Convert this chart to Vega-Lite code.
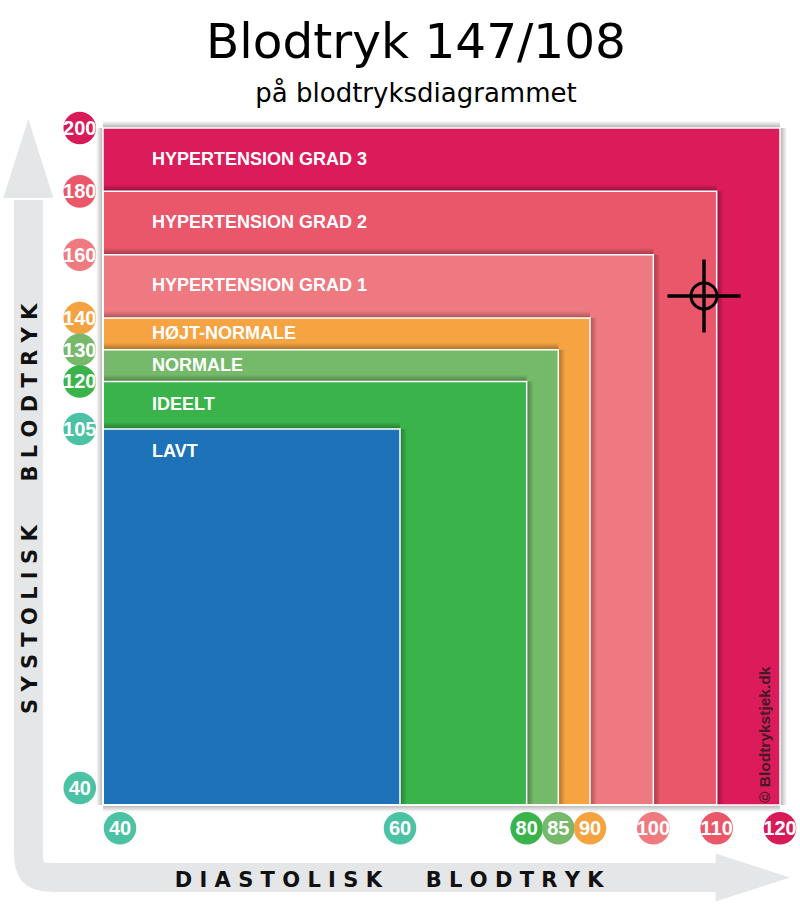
{
  "$schema": "https://vega.github.io/schema/vega-lite/v6.json",
  "width": 780,
  "height": 790,
  "autosize": "none",
  "padding": {"left": 10, "top": 110, "right": 10, "bottom": 8},
  "background": "white",
  "title": {
    "text": "Blodtryk 147/108",
    "subtitle": "på blodtryksdiagrammet",
    "anchor": "middle",
    "frame": "group",
    "dx": 16,
    "offset": 2.5,
    "font": "DejaVu Sans",
    "fontSize": 48.5,
    "fontWeight": "normal",
    "color": "#000000",
    "subtitleFont": "DejaVu Sans",
    "subtitleFontSize": 26,
    "subtitleColor": "#000000",
    "subtitlePadding": 12
  },
  "data": {"values": [{}]},
  "datasets": {
    "zones": [
      {"zone": "HYPERTENSION GRAD 3", "dia_from": 40, "dia_max": 120, "sys_from": 40, "sys_min": 180, "sys_max": 200},
      {"zone": "HYPERTENSION GRAD 2", "dia_from": 40, "dia_max": 110, "sys_from": 40, "sys_min": 160, "sys_max": 180},
      {"zone": "HYPERTENSION GRAD 1", "dia_from": 40, "dia_max": 100, "sys_from": 40, "sys_min": 140, "sys_max": 160},
      {"zone": "HØJT-NORMALE", "dia_from": 40, "dia_max": 90, "sys_from": 40, "sys_min": 130, "sys_max": 140},
      {"zone": "NORMALE", "dia_from": 40, "dia_max": 85, "sys_from": 40, "sys_min": 120, "sys_max": 130},
      {"zone": "IDEELT", "dia_from": 40, "dia_max": 80, "sys_from": 40, "sys_min": 105, "sys_max": 120},
      {"zone": "LAVT", "dia_from": 40, "dia_max": 60, "sys_from": 40, "sys_min": 40, "sys_max": 105}
    ],
    "ticks": [
      {"axis": "sys", "v": 200, "zone": "HYPERTENSION GRAD 3"},
      {"axis": "sys", "v": 180, "zone": "HYPERTENSION GRAD 2"},
      {"axis": "sys", "v": 160, "zone": "HYPERTENSION GRAD 1"},
      {"axis": "sys", "v": 140, "zone": "HØJT-NORMALE"},
      {"axis": "sys", "v": 130, "zone": "NORMALE"},
      {"axis": "sys", "v": 120, "zone": "IDEELT"},
      {"axis": "sys", "v": 105, "zone": "LAVT"},
      {"axis": "sys", "v": 40, "zone": "LAVT"},
      {"axis": "dia", "v": 40, "zone": "LAVT"},
      {"axis": "dia", "v": 60, "zone": "LAVT"},
      {"axis": "dia", "v": 80, "zone": "IDEELT"},
      {"axis": "dia", "v": 85, "zone": "NORMALE"},
      {"axis": "dia", "v": 90, "zone": "HØJT-NORMALE"},
      {"axis": "dia", "v": 100, "zone": "HYPERTENSION GRAD 1"},
      {"axis": "dia", "v": 110, "zone": "HYPERTENSION GRAD 2"},
      {"axis": "dia", "v": 120, "zone": "HYPERTENSION GRAD 3"}
    ],
    "reading": [{"dia": 108, "sys": 147}],
    "arrow": [
      {"i": 0, "dia": 23.94, "sys": 177.3},
      {"i": 1, "dia": 23.94, "sys": 38.57},
      {"i": 2, "dia": 23.94, "sys": 33.18},
      {"i": 3, "dia": 23.94, "sys": 27.79},
      {"i": 4, "dia": 30.82, "sys": 27.79},
      {"i": 5, "dia": 37.7, "sys": 27.79},
      {"i": 6, "dia": 110.53, "sys": 27.79}
    ]
  },
  "layer": [
    {
      "data": {"name": "arrow"},
      "mark": {"type": "line", "interpolate": "basis", "stroke": "#e5e6e8", "strokeWidth": 29, "strokeCap": "butt"},
      "encoding": {
        "x": {"field": "dia", "type": "quantitative", "axis": null, "scale": {"domain": [20, 40, 60, 120, 123], "range": [0, 93, 390, 770, 789], "zero": false, "nice": false}},
        "y": {"field": "sys", "type": "quantitative", "axis": null, "scale": {"domain": [24, 40, 105, 200, 206], "range": [790, 695, 319, 18, 0], "zero": false, "nice": false}},
        "order": {"field": "i", "type": "quantitative"}
      }
    },
    {
      "mark": {"type": "point", "shape": "M0,0L1,3.16L-1,3.16Z", "size": 2500, "filled": true, "fill": "#e5e6e8", "opacity": 1, "strokeWidth": 0},
      "encoding": {
        "x": {"datum": 23.94, "type": "quantitative", "axis": null, "scale": {"domain": [20, 40, 60, 120, 123], "range": [0, 93, 390, 770, 789], "zero": false, "nice": false}},
        "y": {"datum": 203, "type": "quantitative", "axis": null, "scale": {"domain": [24, 40, 105, 200, 206], "range": [790, 695, 319, 18, 0], "zero": false, "nice": false}}
      }
    },
    {
      "mark": {"type": "point", "shape": "M0,0L-3.1,-1L-3.1,1Z", "size": 2304, "filled": true, "fill": "#e5e6e8", "opacity": 1, "strokeWidth": 0},
      "encoding": {
        "x": {"datum": 121.58, "type": "quantitative", "axis": null, "scale": {"domain": [20, 40, 60, 120, 123], "range": [0, 93, 390, 770, 789], "zero": false, "nice": false}},
        "y": {"datum": 27.79, "type": "quantitative", "axis": null, "scale": {"domain": [24, 40, 105, 200, 206], "range": [790, 695, 319, 18, 0], "zero": false, "nice": false}}
      }
    },
    {
      "mark": {"type": "text", "text": "D I A S T O L I S K \u00a0\u00a0\u00a0\u00a0 B L O D T R Y K", "font": "DejaVu Sans", "fontWeight": "bold", "fontSize": 21, "align": "center", "baseline": "alphabetic", "fill": "#111111"},
      "encoding": {
        "x": {"datum": 59.27, "type": "quantitative", "axis": null, "scale": {"domain": [20, 40, 60, 120, 123], "range": [0, 93, 390, 770, 789], "zero": false, "nice": false}},
        "y": {"datum": 26.24, "type": "quantitative", "axis": null, "scale": {"domain": [24, 40, 105, 200, 206], "range": [790, 695, 319, 18, 0], "zero": false, "nice": false}}
      }
    },
    {
      "mark": {"type": "text", "text": "S Y S T O L I S K \u00a0\u00a0\u00a0\u00a0 B L O D T R Y K", "angle": 270, "font": "DejaVu Sans", "fontWeight": "bold", "fontSize": 21, "align": "center", "baseline": "alphabetic", "fill": "#111111"},
      "encoding": {
        "x": {"datum": 25.87, "type": "quantitative", "axis": null, "scale": {"domain": [20, 40, 60, 120, 123], "range": [0, 93, 390, 770, 789], "zero": false, "nice": false}},
        "y": {"datum": 91.2, "type": "quantitative", "axis": null, "scale": {"domain": [24, 40, 105, 200, 206], "range": [790, 695, 319, 18, 0], "zero": false, "nice": false}}
      }
    },
    {
      "data": {"name": "zones"},
      "mark": {"type": "rect", "strokeWidth": 0},
      "encoding": {
        "x": {"field": "dia_from", "type": "quantitative", "axis": null, "scale": {"domain": [20, 40, 60, 120, 123], "range": [0, 93, 390, 770, 789], "zero": false, "nice": false}},
        "x2": {"field": "dia_max"},
        "y": {"field": "sys_from", "type": "quantitative", "axis": null, "scale": {"domain": [24, 40, 105, 200, 206], "range": [790, 695, 319, 18, 0], "zero": false, "nice": false}},
        "y2": {"field": "sys_max"},
        "color": {
          "field": "zone",
          "type": "nominal",
          "legend": null,
          "scale": {
            "domain": ["HYPERTENSION GRAD 3", "HYPERTENSION GRAD 2", "HYPERTENSION GRAD 1", "HØJT-NORMALE", "NORMALE", "IDEELT", "LAVT"],
            "range": ["#db1b5a", "#ea566a", "#ef7980", "#f6a341", "#75ba6a", "#3ab44a", "#1d72b8"]
          }
        }
      }
    },
    {
      "data": {"name": "zones"},
      "mark": {
        "type": "rect",
        "x2Offset": 7,
        "fill": {"gradient": "linear", "x1": 0, "y1": 0, "x2": 1, "y2": 0, "stops": [{"offset": 0, "color": "rgba(0,0,0,0.32)"}, {"offset": 1, "color": "rgba(0,0,0,0)"}]}
      },
      "encoding": {
        "x": {"field": "dia_max", "type": "quantitative", "axis": null, "scale": {"domain": [20, 40, 60, 120, 123], "range": [0, 93, 390, 770, 789], "zero": false, "nice": false}},
        "x2": {"field": "dia_max"},
        "y": {"field": "sys_from", "type": "quantitative", "axis": null, "scale": {"domain": [24, 40, 105, 200, 206], "range": [790, 695, 319, 18, 0], "zero": false, "nice": false}},
        "y2": {"field": "sys_max"}
      }
    },
    {
      "data": {"name": "zones"},
      "mark": {
        "type": "rect",
        "y2Offset": -7,
        "fill": {"gradient": "linear", "x1": 0, "y1": 1, "x2": 0, "y2": 0, "stops": [{"offset": 0, "color": "rgba(0,0,0,0.32)"}, {"offset": 1, "color": "rgba(0,0,0,0)"}]}
      },
      "encoding": {
        "x": {"field": "dia_from", "type": "quantitative", "axis": null, "scale": {"domain": [20, 40, 60, 120, 123], "range": [0, 93, 390, 770, 789], "zero": false, "nice": false}},
        "x2": {"field": "dia_max"},
        "y": {"field": "sys_max", "type": "quantitative", "axis": null, "scale": {"domain": [24, 40, 105, 200, 206], "range": [790, 695, 319, 18, 0], "zero": false, "nice": false}},
        "y2": {"field": "sys_max"}
      }
    },
    {
      "data": {"name": "zones"},
      "transform": [{"filter": "datum.zone == 'HYPERTENSION GRAD 3'"}],
      "mark": {
        "type": "rect",
        "xOffset": -7,
        "fill": {"gradient": "linear", "x1": 1, "y1": 0, "x2": 0, "y2": 0, "stops": [{"offset": 0, "color": "rgba(0,0,0,0.3)"}, {"offset": 1, "color": "rgba(0,0,0,0)"}]}
      },
      "encoding": {
        "x": {"field": "dia_from", "type": "quantitative", "axis": null, "scale": {"domain": [20, 40, 60, 120, 123], "range": [0, 93, 390, 770, 789], "zero": false, "nice": false}},
        "x2": {"field": "dia_from"},
        "y": {"field": "sys_from", "type": "quantitative", "axis": null, "scale": {"domain": [24, 40, 105, 200, 206], "range": [790, 695, 319, 18, 0], "zero": false, "nice": false}},
        "y2": {"field": "sys_max"}
      }
    },
    {
      "data": {"name": "zones"},
      "transform": [{"filter": "datum.zone == 'HYPERTENSION GRAD 3'"}],
      "mark": {
        "type": "rect",
        "yOffset": 7,
        "fill": {"gradient": "linear", "x1": 0, "y1": 0, "x2": 0, "y2": 1, "stops": [{"offset": 0, "color": "rgba(0,0,0,0.3)"}, {"offset": 1, "color": "rgba(0,0,0,0)"}]}
      },
      "encoding": {
        "x": {"field": "dia_from", "type": "quantitative", "axis": null, "scale": {"domain": [20, 40, 60, 120, 123], "range": [0, 93, 390, 770, 789], "zero": false, "nice": false}},
        "x2": {"field": "dia_max"},
        "y": {"field": "sys_from", "type": "quantitative", "axis": null, "scale": {"domain": [24, 40, 105, 200, 206], "range": [790, 695, 319, 18, 0], "zero": false, "nice": false}},
        "y2": {"field": "sys_from"}
      }
    },
    {
      "data": {"name": "zones"},
      "mark": {"type": "rect", "fill": "transparent", "stroke": "white", "strokeWidth": 1.5},
      "encoding": {
        "x": {"field": "dia_from", "type": "quantitative", "axis": null, "scale": {"domain": [20, 40, 60, 120, 123], "range": [0, 93, 390, 770, 789], "zero": false, "nice": false}},
        "x2": {"field": "dia_max"},
        "y": {"field": "sys_from", "type": "quantitative", "axis": null, "scale": {"domain": [24, 40, 105, 200, 206], "range": [790, 695, 319, 18, 0], "zero": false, "nice": false}},
        "y2": {"field": "sys_max"}
      }
    },
    {
      "data": {"name": "zones"},
      "transform": [
        {"filter": "datum.zone != 'LAVT'"},
        {"calculate": "(datum.sys_min + datum.sys_max) / 2", "as": "sys_mid"}
      ],
      "mark": {"type": "text", "align": "left", "baseline": "middle", "dx": 49, "font": "Liberation Sans", "fontWeight": "bold", "fontSize": 18, "fill": "white"},
      "encoding": {
        "x": {"field": "dia_from", "type": "quantitative", "axis": null, "scale": {"domain": [20, 40, 60, 120, 123], "range": [0, 93, 390, 770, 789], "zero": false, "nice": false}},
        "y": {"field": "sys_mid", "type": "quantitative", "axis": null, "scale": {"domain": [24, 40, 105, 200, 206], "range": [790, 695, 319, 18, 0], "zero": false, "nice": false}},
        "text": {"field": "zone", "type": "nominal"}
      }
    },
    {
      "data": {"name": "zones"},
      "transform": [{"filter": "datum.zone == 'LAVT'"}],
      "mark": {"type": "text", "align": "left", "baseline": "middle", "dx": 49, "dy": 23, "font": "Liberation Sans", "fontWeight": "bold", "fontSize": 18, "fill": "white"},
      "encoding": {
        "x": {"field": "dia_from", "type": "quantitative", "axis": null, "scale": {"domain": [20, 40, 60, 120, 123], "range": [0, 93, 390, 770, 789], "zero": false, "nice": false}},
        "y": {"field": "sys_max", "type": "quantitative", "axis": null, "scale": {"domain": [24, 40, 105, 200, 206], "range": [790, 695, 319, 18, 0], "zero": false, "nice": false}},
        "text": {"field": "zone", "type": "nominal"}
      }
    },
    {
      "mark": {"type": "text", "text": "© Blodtrykstjek.dk", "angle": 270, "align": "left", "baseline": "alphabetic", "font": "Liberation Sans", "fontWeight": "bold", "fontSize": 15.5, "fill": "#2a1a20", "opacity": 0.85},
      "encoding": {
        "x": {"datum": 118.42, "type": "quantitative", "axis": null, "scale": {"domain": [20, 40, 60, 120, 123], "range": [0, 93, 390, 770, 789], "zero": false, "nice": false}},
        "y": {"datum": 40.35, "type": "quantitative", "axis": null, "scale": {"domain": [24, 40, 105, 200, 206], "range": [790, 695, 319, 18, 0], "zero": false, "nice": false}}
      }
    },
    {
      "data": {"name": "ticks"},
      "transform": [{"filter": "datum.axis == 'sys' && datum.v > 40"}],
      "encoding": {
        "x": {"datum": 35, "type": "quantitative", "axis": null, "scale": {"domain": [20, 40, 60, 120, 123], "range": [0, 93, 390, 770, 789], "zero": false, "nice": false}},
        "y": {"field": "v", "type": "quantitative", "axis": null, "scale": {"domain": [24, 40, 105, 200, 206], "range": [790, 695, 319, 18, 0], "zero": false, "nice": false}},
        "fill": {
          "field": "zone",
          "type": "nominal",
          "legend": null,
          "scale": {
            "domain": ["HYPERTENSION GRAD 3", "HYPERTENSION GRAD 2", "HYPERTENSION GRAD 1", "HØJT-NORMALE", "NORMALE", "IDEELT", "LAVT"],
            "range": ["#d81a59", "#ea5769", "#ef7a80", "#f5a340", "#76b96a", "#39b44a", "#4cc2a5"]
          }
        }
      },
      "layer": [
        {"mark": {"type": "point", "shape": "circle", "size": 1060, "filled": true, "opacity": 1, "strokeWidth": 0}},
        {
          "mark": {"type": "text", "align": "center", "baseline": "middle", "dy": 1, "font": "Liberation Sans Narrow, Liberation Sans", "fontWeight": "bold", "fontSize": 20},
          "encoding": {"text": {"field": "v", "type": "quantitative", "format": "d"}, "fill": {"value": "white"}}
        }
      ]
    },
    {
      "data": {"name": "ticks"},
      "transform": [{"filter": "datum.axis == 'sys' && datum.v == 40"}],
      "encoding": {
        "x": {"datum": 35, "type": "quantitative", "axis": null, "scale": {"domain": [20, 40, 60, 120, 123], "range": [0, 93, 390, 770, 789], "zero": false, "nice": false}},
        "y": {"field": "v", "type": "quantitative", "axis": null, "scale": {"domain": [24, 40, 105, 200, 206], "range": [790, 695, 319, 18, 0], "zero": false, "nice": false}},
        "fill": {"field": "zone", "type": "nominal", "legend": null}
      },
      "layer": [
        {"mark": {"type": "point", "shape": "circle", "size": 1060, "filled": true, "opacity": 1, "strokeWidth": 0, "yOffset": -17}},
        {
          "mark": {"type": "text", "align": "center", "baseline": "middle", "dy": 1, "yOffset": -17, "font": "Liberation Sans Narrow, Liberation Sans", "fontWeight": "bold", "fontSize": 20},
          "encoding": {"text": {"field": "v", "type": "quantitative", "format": "d"}, "fill": {"value": "white"}}
        }
      ]
    },
    {
      "data": {"name": "ticks"},
      "transform": [{"filter": "datum.axis == 'dia' && datum.v > 40"}],
      "encoding": {
        "x": {"field": "v", "type": "quantitative", "axis": null, "scale": {"domain": [20, 40, 60, 120, 123], "range": [0, 93, 390, 770, 789], "zero": false, "nice": false}},
        "y": {"datum": 36.1, "type": "quantitative", "axis": null, "scale": {"domain": [24, 40, 105, 200, 206], "range": [790, 695, 319, 18, 0], "zero": false, "nice": false}},
        "fill": {"field": "zone", "type": "nominal", "legend": null}
      },
      "layer": [
        {"mark": {"type": "point", "shape": "circle", "size": 1060, "filled": true, "opacity": 1, "strokeWidth": 0}},
        {
          "mark": {"type": "text", "align": "center", "baseline": "middle", "dy": 1, "font": "Liberation Sans Narrow, Liberation Sans", "fontWeight": "bold", "fontSize": 20},
          "encoding": {"text": {"field": "v", "type": "quantitative", "format": "d"}, "fill": {"value": "white"}}
        }
      ]
    },
    {
      "data": {"name": "ticks"},
      "transform": [{"filter": "datum.axis == 'dia' && datum.v == 40"}],
      "encoding": {
        "x": {"field": "v", "type": "quantitative", "axis": null, "scale": {"domain": [20, 40, 60, 120, 123], "range": [0, 93, 390, 770, 789], "zero": false, "nice": false}},
        "y": {"datum": 36.1, "type": "quantitative", "axis": null, "scale": {"domain": [24, 40, 105, 200, 206], "range": [790, 695, 319, 18, 0], "zero": false, "nice": false}},
        "fill": {"field": "zone", "type": "nominal", "legend": null}
      },
      "layer": [
        {"mark": {"type": "point", "shape": "circle", "size": 1060, "filled": true, "opacity": 1, "strokeWidth": 0, "xOffset": 17}},
        {
          "mark": {"type": "text", "align": "center", "baseline": "middle", "dy": 1, "xOffset": 17, "font": "Liberation Sans Narrow, Liberation Sans", "fontWeight": "bold", "fontSize": 20},
          "encoding": {"text": {"field": "v", "type": "quantitative", "format": "d"}, "fill": {"value": "white"}}
        }
      ]
    },
    {
      "data": {"name": "reading"},
      "encoding": {
        "x": {"field": "dia", "type": "quantitative", "axis": null, "scale": {"domain": [20, 40, 60, 120, 123], "range": [0, 93, 390, 770, 789], "zero": false, "nice": false}},
        "y": {"field": "sys", "type": "quantitative", "axis": null, "scale": {"domain": [24, 40, 105, 200, 206], "range": [790, 695, 319, 18, 0], "zero": false, "nice": false}}
      },
      "layer": [
        {"mark": {"type": "point", "shape": "circle", "size": 676, "filled": false, "stroke": "black", "strokeWidth": 3, "opacity": 1}},
        {"mark": {"type": "point", "shape": "M-1,0H1M0,-1V1", "size": 5329, "filled": false, "stroke": "black", "strokeWidth": 3.4, "opacity": 1}}
      ]
    }
  ],
  "config": {
    "view": {"stroke": null}
  }
}
